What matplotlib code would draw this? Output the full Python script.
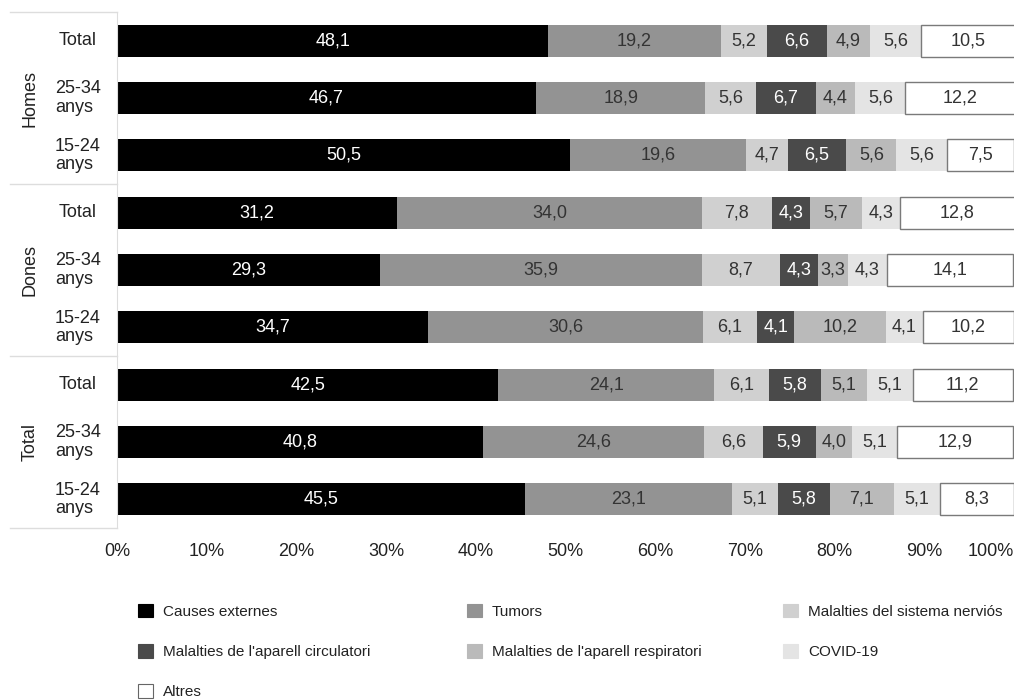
import numpy as np
import matplotlib.pyplot as plt
from matplotlib.patches import Patch

plt.rcParams['font.family'] = ['Liberation Sans', 'DejaVu Sans']

groups = ['Homes', 'Dones', 'Total']
rows = ['Total', '25-34\nanys', '15-24\nanys']
causes = ['Causes externes', 'Tumors', 'Malalties del sistema nerviós',
          "Malalties de l'aparell circulatori", "Malalties de l'aparell respiratori",
          'COVID-19', 'Altres']

causes_externes = [48.1, 46.7, 50.5, 31.2, 29.3, 34.7, 42.5, 40.8, 45.5]
tumors = [19.2, 18.9, 19.6, 34.0, 35.9, 30.6, 24.1, 24.6, 23.1]
nervios = [5.2, 5.6, 4.7, 7.8, 8.7, 6.1, 6.1, 6.6, 5.1]
circulatori = [6.6, 6.7, 6.5, 4.3, 4.3, 4.1, 5.8, 5.9, 5.8]
respiratori = [4.9, 4.4, 5.6, 5.7, 3.3, 10.2, 5.1, 4.0, 7.1]
covid = [5.6, 5.6, 5.6, 4.3, 4.3, 4.1, 5.1, 5.1, 5.1]
altres = [10.5, 12.2, 7.5, 12.8, 14.1, 10.2, 11.2, 12.9, 8.3]

series = [causes_externes, tumors, nervios, circulatori, respiratori, covid, altres]
colors = ['#000000', '#939393', '#d0d0d0', '#4a4a4a', '#bababa', '#e4e4e4', '#ffffff']
text_colors = ['white', '#333333', '#333333', 'white', '#333333', '#333333', '#333333']

fig = plt.figure(figsize=(10.19, 7), dpi=100)
ax = fig.add_axes([117 / 1019, 1 - 528 / 700, 897 / 1019, 516 / 700])

y = np.arange(len(causes_externes))
left = np.zeros(len(y))
for vals, col, tcol in zip(series, colors, text_colors):
    vals = np.array(vals)
    edge = '#7a7a7a' if col == '#ffffff' else 'none'
    ax.barh(y, vals, left=left, height=0.56, color=col, edgecolor=edge, linewidth=1)
    for yi, l, v in zip(y, left, vals):
        ax.text(l + v / 2, yi, f'{v:.1f}'.replace('.', ','), ha='center', va='center',
                color=tcol, fontsize=13)
    left += vals

ax.set_xlim(0, 100)
ax.set_ylim(len(y) - 0.5, -0.5)
ax.set_yticks([])
ax.set_xticks(np.arange(0, 101, 10))
ax.set_xticklabels([f'{t}%' for t in range(0, 101, 10)], fontsize=13, color='#222222')
ax.tick_params(axis='x', length=0, pad=11)
ax.get_xticklabels()[-1].set_horizontalalignment('right')
for s in ['top', 'right', 'bottom']:
    ax.spines[s].set_visible(False)
ax.spines['left'].set_color('#dddddd')

# left label box
ytr = ax.get_yaxis_transform()
for b in [-0.5, 2.5, 5.5, 8.5]:
    ax.plot([-0.119, 0], [b, b], color='#dddddd', lw=1, transform=ytr, clip_on=False)
for i, g in enumerate(groups):
    ax.text(-0.097, i * 3 + 1, g, rotation=90, ha='center', va='center', fontsize=13,
            color='#222222', transform=ytr)
    for j, r in enumerate(rows):
        ax.text(-0.0435, i * 3 + j, r, ha='center', va='center', multialignment='left',
                fontsize=13, color='#222222', transform=ytr, linespacing=1.1)

# legend, three columns
handles = [Patch(facecolor=c, edgecolor='#666666' if c == '#ffffff' else c, lw=0.8) for c in colors]
cols = [[0, 3, 6], [1, 4], [2, 5]]
xs = [130 / 1019, 459 / 1019, 775 / 1019]
for idx, x0 in zip(cols, xs):
    fig.legend([handles[i] for i in idx], [causes[i] for i in idx], loc='upper left',
               bbox_to_anchor=(x0, 1 - 596 / 700), frameon=False, fontsize=11,
               handlelength=1.0, handleheight=1.0, handletextpad=0.65, labelspacing=1.65,
               borderpad=0, labelcolor='#222222')

fig.savefig('out.png', dpi=100)
